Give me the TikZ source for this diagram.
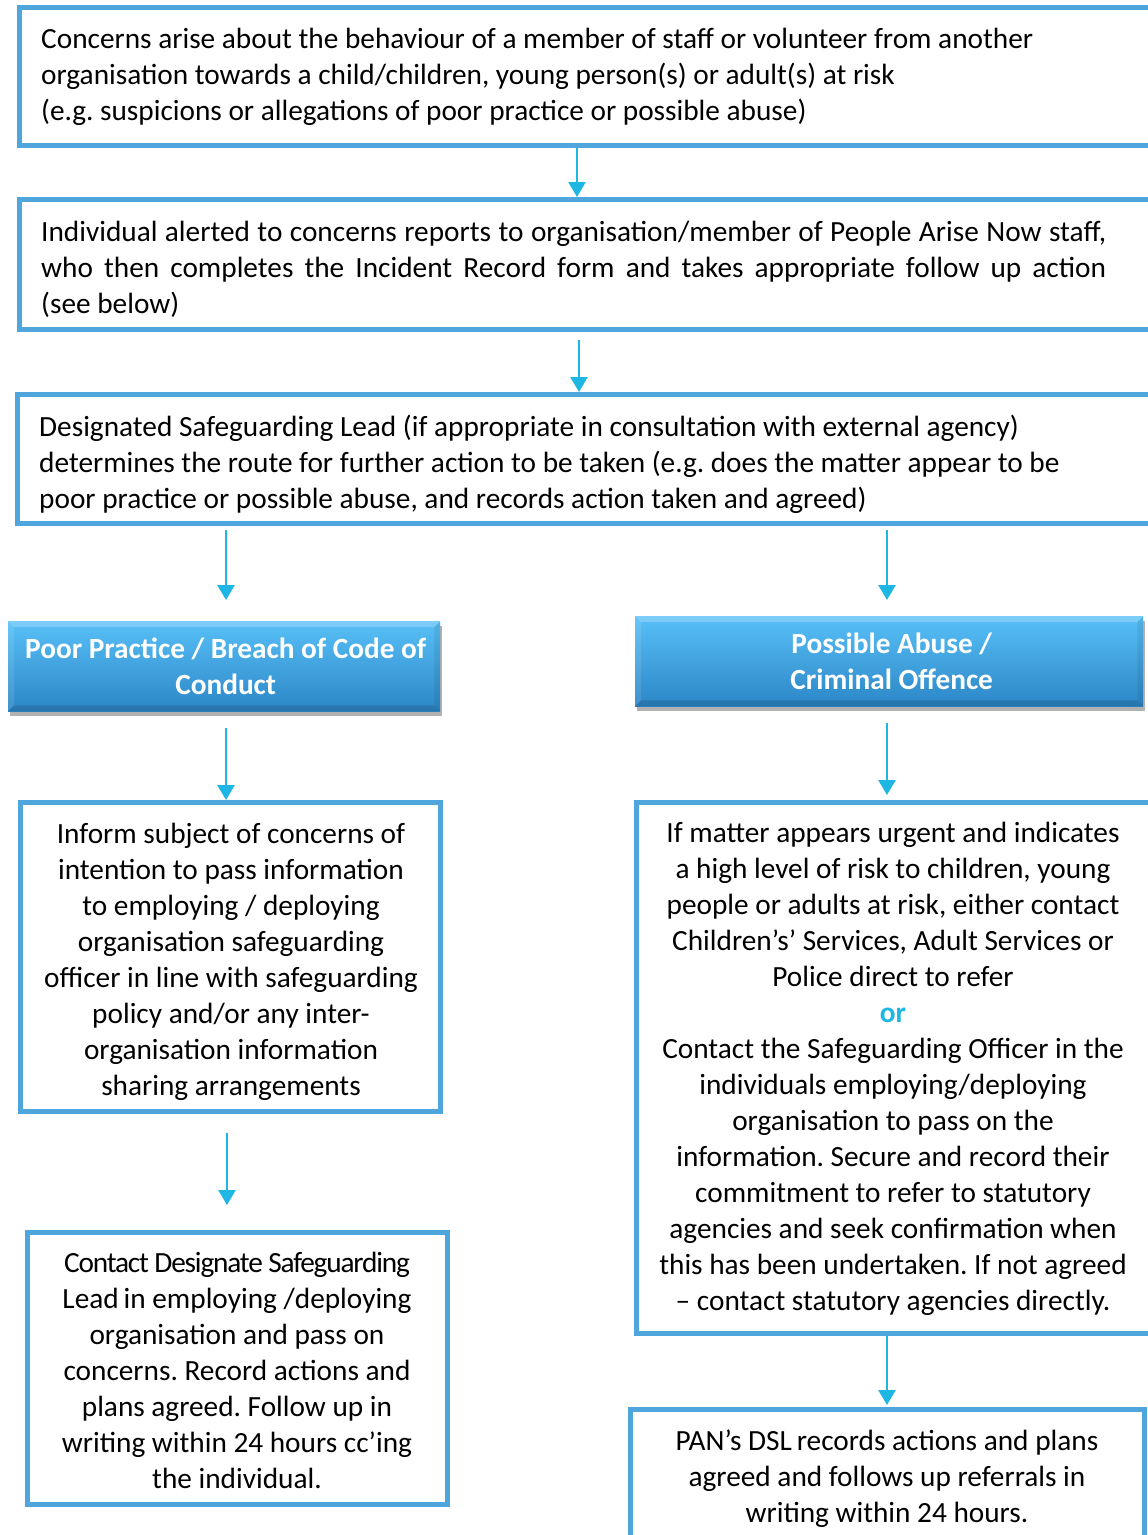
\documentclass[tikz,border=0pt]{standalone}
\usepackage{fontspec}
\setmainfont{Carlito}
\usetikzlibrary{arrows.meta,shadows}
\definecolor{frameblue}{RGB}{79,166,220}
\definecolor{arrowcyan}{RGB}{30,182,226}
\definecolor{hdrtop}{RGB}{88,192,247}
\definecolor{hdrbot}{RGB}{44,134,198}
\frenchspacing
\begin{document}
\begin{tikzpicture}[x=1pt,y=-1pt,
  frame/.style={draw=frameblue, line width=5pt, fill=white, rectangle, inner sep=0pt, anchor=north west},
  txt/.style={font=\fontsize{29.3}{36}\selectfont, inner sep=0pt, text=black},
  header/.style={rectangle, inner sep=0pt, anchor=north west, top color=hdrtop, bottom color=hdrbot,
    drop shadow={shadow xshift=2pt, shadow yshift=-5pt, opacity=0.3, fill=black},
    font=\fontsize{29.3}{36}\selectfont\bfseries, text=white, align=center},
  flow/.style={draw=arrowcyan, line width=2.5pt, -{Triangle[width=17pt,length=15pt]}},
  bevel/.style={fill=white, opacity=0.22},
  shade/.style={fill=black, opacity=0.12}
]
\useasboundingbox (0,0) rectangle (1148,1535);
\clip (0,0) rectangle (1148,1535);

% arrow columns
\coordinate (cA) at (577,0);
\coordinate (cB) at (579,0);
\coordinate (cL) at (226,0);
\coordinate (cL2) at (227,0);
\coordinate (cR) at (887,0);

% framed boxes (placed by their outer corner)
\node[frame, minimum width=1160pt, minimum height=138pt] (b1) at (17,5) {};
\node[frame, minimum width=1160pt, minimum height=130pt] (b2) at (17,197) {};
\node[frame, minimum width=1160pt, minimum height=129pt] (b3) at (15,392) {};
\node[frame, minimum width=420pt, minimum height=309pt] (l4) at (18,800) {};
\node[frame, minimum width=420pt, minimum height=272pt] (l5) at (25,1230) {};
\node[frame, minimum width=540pt, minimum height=531pt] (r4) at (634,800) {};
\node[frame, minimum width=514pt, minimum height=200pt] (r5) at (628,1407) {};

% texts of the framed boxes
\node[txt, anchor=west, align=left] (t1) at (41,77) {Concerns arise about the behaviour of a member of staff or volunteer from another\\
organisation towards a child/children, young person(s) or adult(s) at risk\\
(e.g. suspicions or allegations of poor practice or possible abuse)};
\node[txt, anchor=west, align=left] (t2) at (41,269) {\makebox[1065pt][s]{Individual alerted to concerns reports to organisation/member of People Arise Now staff,}\\
\makebox[1065pt][s]{who then completes the Incident Record form and takes appropriate follow up action}\\
(see below)};
\node[txt, anchor=west, align=left] (t3) at (39,464) {Designated Safeguarding Lead (if appropriate in consultation with external agency)\\
determines the route for further action to be taken (e.g. does the matter appear to be\\
poor practice or possible abuse, and records action taken and agreed)};
\node[txt, align=center] (tl4) at (231,961.5) {Inform subject of concerns of\\
intention to pass information\\
to employing / deploying\\
organisation safeguarding\\
officer in line with safeguarding\\
policy and/or any inter-\\
organisation information\\
sharing arrangements};
\node[txt, align=center] (tl5) at (237,1370.5) {{\addfontfeatures{LetterSpace=-4}Contact Designate Safeguarding}\\
Lead\,in employing /deploying\\
organisation and pass on\\
concerns. Record actions and\\
plans agreed. Follow up in\\
writing within 24 hours cc’ing\\
the individual.};
\node[txt, align=center] (tr4) at (893,1069) {If matter appears urgent and indicates\\
a high level of risk to children, young\\
people or adults at risk, either contact\\
Children’s’ Services, Adult Services or\\
Police direct to refer\\
{\bfseries\color{arrowcyan}or}\\
Contact the Safeguarding Officer in the\\
individuals employing/deploying\\
organisation to pass on the\\
information. Secure and record their\\
commitment to refer to statutory\\
agencies and seek confirmation when\\
this has been undertaken. If not agreed\\
– contact statutory agencies directly.};
\node[txt, align=center] (tr5) at (887,1479) {PAN’s DSL\,records actions and plans\\
agreed and follows up referrals in\\
writing within 24 hours.};

% shaded heading boxes
\node[header, minimum width=432pt, minimum height=90pt] (hl) at (8,621) {\hspace*{3pt}Poor Practice / Breach of Code of\\\hspace*{3pt}Conduct};
\node[header, minimum width=508pt, minimum height=90pt] (hr) at (635,616) {\hspace*{5pt}Possible Abuse /\\\hspace*{5pt}Criminal Offence};
\foreach \h in {hl,hr}{
  \fill[bevel] (\h.north west) -- (\h.north east) -- ([xshift=-6pt,yshift=-6pt]\h.north east) -- ([xshift=6pt,yshift=-6pt]\h.north west) -- cycle;
  \fill[bevel, opacity=0.1] (\h.north west) -- ([xshift=6pt,yshift=-6pt]\h.north west) -- ([xshift=6pt,yshift=6pt]\h.south west) -- (\h.south west) -- cycle;
  \fill[shade] (\h.south west) -- (\h.south east) -- ([xshift=-6pt,yshift=6pt]\h.south east) -- ([xshift=6pt,yshift=6pt]\h.south west) -- cycle;
  \fill[shade, opacity=0.07] (\h.north east) -- ([xshift=-6pt,yshift=-6pt]\h.north east) -- ([xshift=-6pt,yshift=6pt]\h.south east) -- (\h.south east) -- cycle;
}

% connectors
\draw[flow] (b1.south -| cA) -- (b2.north -| cA);
\draw[flow, shorten <=8pt] (b2.south -| cB) -- (b3.north -| cB);
\draw[flow, shorten <=4pt, shorten >=21pt] (b3.south -| cL) -- (hl.north -| cL);
\draw[flow, shorten <=4pt, shorten >=16pt] (b3.south -| cR) -- (hr.north -| cR);
\draw[flow, shorten <=17pt] (hl.south -| cL) -- (l4.north -| cL);
\draw[flow, shorten <=17pt, shorten >=5pt] (hr.south -| cR) -- (r4.north -| cR);
\draw[flow, shorten <=19pt, shorten >=25pt] (l4.south -| cL2) -- (l5.north -| cL2);
\draw[flow, shorten >=2pt] (r4.south -| cR) -- (r5.north -| cR);
\end{tikzpicture}
\end{document}
